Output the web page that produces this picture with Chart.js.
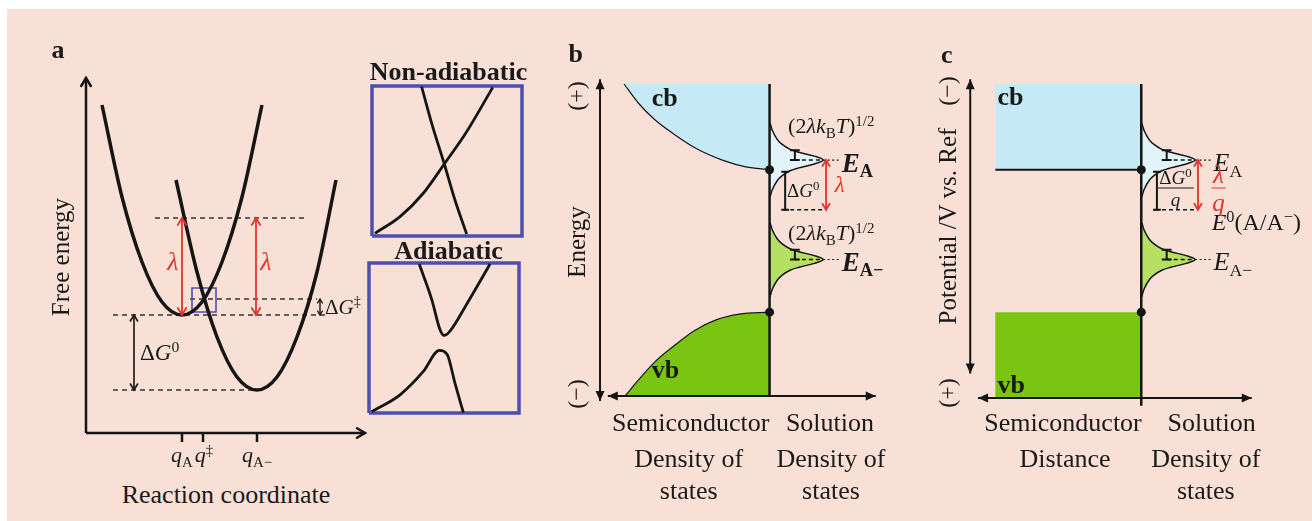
<!DOCTYPE html>
<html lang="en">
<head>
<meta charset="UTF-8">
<title>Electron transfer energetics</title>
<script src="https://cdn.jsdelivr.net/npm/chart.js"></script>
<style>
  html, body { margin: 0; padding: 0; background: #fff; width: 1312px; height: 521px; overflow: hidden; }
  #page { position: absolute; left: 7px; top: 9px; width: 1305px; height: 512px; background: #f8e0d6; }
  .panel { position: absolute; }
  .panel canvas { position: absolute; left: 0; top: 0; }
  .lbl { position: absolute; transform: translate(-50%, -50%); white-space: nowrap;
         font-family: "Liberation Serif", "DejaVu Serif", serif; line-height: 1; color: #1a1a1a; font-size: 22px; }
  .lbl.left { transform: translate(0, -50%); }
  .lbl.rot { transform: translate(-50%, -50%) rotate(-90deg); }
  .lbl sub { font-size: 0.68em; vertical-align: -0.32em; line-height: 0; }
  .lbl sup { font-size: 0.68em; vertical-align: 0.5em; line-height: 0; }
  .big { font-size: 26px; }
  .bold { font-weight: bold; }
  .red { color: #e2352c; }
  .frac { display: inline-flex; flex-direction: column; align-items: center; }
  .frac > span:first-child { border-bottom: 1.3px solid currentColor; padding: 0 2px 1px; }
  .frac > span:last-child { padding-top: 1px; }
</style>
</head>
<body>
<div id="page"></div>
<div class="panel" style="left:40px;top:60px;width:340px;height:420px"><canvas id="chartA" width="340" height="420"></canvas></div>
<div class="panel" style="left:366px;top:80px;width:162px;height:162px"><canvas id="chartNonAd" width="162" height="162"></canvas></div>
<div class="panel" style="left:363px;top:257px;width:162px;height:162px"><canvas id="chartAd" width="162" height="162"></canvas></div>
<div class="panel" style="left:540px;top:60px;width:350px;height:360px"><canvas id="chartB" width="350" height="360"></canvas></div>
<div class="panel" style="left:910px;top:60px;width:400px;height:360px"><canvas id="chartC" width="400" height="360"></canvas></div>

<script>
// ---- panel a: Marcus parabolas (reaction coordinate q, free energy G) ----
const qReact = [0.8, 1.8, 2.8, 3.8, 4.8, 5.8, 6.8, 7.8, 8.8];
const gReact = [16.4, 11.8, 8.55, 6.55, 5.9, 6.55, 8.55, 11.8, 16.4];
const qProd = [4.5, 5.55, 6.55, 7.55, 8.55, 9.55, 10.55, 11.55, 12.5];
const gProd = [12.65, 8.05, 4.8, 2.8, 2.15, 2.8, 4.8, 8.05, 12.65];
const qTicks = [4.8, 5.85, 8.55];
const qTickLabels = ['<i>q</i><sub>A</sub>', '<i>q</i><sup>‡</sup>', '<i>q</i><sub>A−</sub>'];
const gLevels = [10.75, 6.7, 5.9, 2.15]; // reorganisation, barrier top, reactant min, product min

// ---- insets: crossing region, normalised box coords ----
const nonAdSteepX = [0.331, 0.398, 0.482, 0.553, 0.631];
const nonAdSteepY = [0.995, 0.751, 0.48, 0.24, 0.013];
const nonAdRiseX = [0.02, 0.187, 0.342, 0.482, 0.631, 0.805];
const nonAdRiseY = [0.018, 0.129, 0.285, 0.48, 0.695, 0.991];
const adUpperX = [0.335, 0.418, 0.473, 0.5, 0.54, 0.651, 0.807];
const adUpperY = [0.993, 0.758, 0.557, 0.517, 0.546, 0.725, 0.993];
const adLowerX = [0.018, 0.207, 0.362, 0.469, 0.522, 0.573, 0.629];
const adLowerY = [0.009, 0.121, 0.277, 0.418, 0.389, 0.199, 0.002];

// ---- panels b / c: density of states vs energy ----
const cbEdgeDos = [-14.93, -13.43, -11.77, -9.77, -7.43, -4.77, -2.43, 0];
const cbEdgeE = [32, 30, 28.33, 26.83, 25.33, 24.17, 23.5, 23.2];
const vbEdgeDos = [-14.83, -13.43, -11.77, -9.77, -7.77, -5.43, -3.1, 0];
const vbEdgeE = [0, 1.67, 3.5, 5.17, 6.67, 7.83, 8.4, 8.6];
const bandEdges = [23.2, 8.6];          // Ec, Ev at the surface
const redoxLevels = [24.2, 19.1, 14.0]; // E_A, E0(A/A-), E_A-
const gaussOffset = [3.8, 3.0, 2.1, 1.6, 1.1, 0.8, 0.4, 0, -0.4, -0.8, -1.1, -1.6, -2.1, -3.0, -3.8];
const gaussDos = [0.05, 0.3, 0.8, 1.3, 2.1, 3.0, 4.6, 5.5, 4.6, 3.0, 2.1, 1.3, 0.8, 0.3, 0.05];

const BLACK = '#151515', RED = '#e2352c', BLUE = '#4b4fae';
const CB = '#c6eaf5', CB_LIGHT = '#e2f3fa', VB = '#7ac412', VB_LIGHT = '#b6e062';
const GAP = {x: 0, y: null};

const pts = (xs, ys) => xs.map((x, i) => ({x, y: ys[i]}));
function line(data, o) {
  return Object.assign({data, showLine: true, borderColor: BLACK, borderWidth: 2, pointRadius: 0, fill: false, tension: 0}, o);
}

const arrowHeads = {
  id: 'arrowHeads',
  afterDatasetsDraw(chart) {
    const ctx = chart.ctx;
    chart.data.datasets.forEach((ds, i) => {
      if (!ds.arrow) return;
      const p = chart.getDatasetMeta(i).data;
      const n = p.length;
      const head = (tip, from) => {
        const a = Math.atan2(tip.y - from.y, tip.x - from.x);
        const L = ds.arrowSize || 8, W = L * (ds.arrowFill ? 0.45 : 0.6);
        ctx.save();
        ctx.translate(tip.x, tip.y);
        ctx.rotate(a);
        ctx.beginPath();
        ctx.moveTo(-L, -W); ctx.lineTo(0, 0); ctx.lineTo(-L, W);
        if (ds.arrowFill) {
          ctx.closePath(); ctx.fillStyle = ds.borderColor; ctx.fill();
        } else {
          ctx.strokeStyle = ds.borderColor; ctx.lineWidth = ds.borderWidth; ctx.lineCap = 'round'; ctx.stroke();
        }
        ctx.restore();
      };
      if (ds.arrow === 'end' || ds.arrow === 'both') head(p[n - 1], p[n - 2]);
      if (ds.arrow === 'start' || ds.arrow === 'both') head(p[0], p[1]);
    });
  }
};

function htmlLabels(items) {
  return {
    id: 'htmlLabels',
    afterRender(chart) {
      const wrap = chart.canvas.parentNode;
      const {x, y} = chart.scales;
      items.forEach(it => {
        if (!it.el) {
          it.el = document.createElement('div');
          it.el.className = 'lbl ' + (it.cls || '');
          it.el.innerHTML = it.html;
          if (it.style) it.el.style.cssText = it.style;
          wrap.appendChild(it.el);
        }
        it.el.style.left = x.getPixelForValue(it.x) + 'px';
        it.el.style.top = y.getPixelForValue(it.y) + 'px';
      });
    }
  };
}

function makeChart(id, xr, yr, datasets, labels) {
  return new Chart(document.getElementById(id), {
    type: 'scatter',
    data: {datasets},
    options: {
      responsive: false, animation: false, events: [],
      layout: {padding: 0},
      plugins: {legend: {display: false}, tooltip: {enabled: false}},
      scales: {
        x: {type: 'linear', min: xr[0], max: xr[1], display: false},
        y: {type: 'linear', min: yr[0], max: yr[1], display: false}
      }
    },
    plugins: [arrowHeads, htmlLabels(labels)]
  });
}

// ---------- panel a ----------
const [gLam, gBar, gMinR, gMinP] = gLevels;
const tickSegs = [];
qTicks.forEach(q => tickSegs.push({x: q, y: 0}, {x: q, y: -0.45}, GAP));
makeChart('chartA', [-2.3, 14.7], [-2.35, 18.65], [
  line(pts(qReact, gReact), {borderWidth: 3.5, cubicInterpolationMode: 'monotone'}),
  line(pts(qProd, gProd), {borderWidth: 3.5, cubicInterpolationMode: 'monotone'}),
  line([{x: 0, y: 0}, {x: 0, y: 17.75}], {borderWidth: 2.5, arrow: 'end', arrowSize: 8}),
  line([{x: 0, y: 0}, {x: 13.95, y: 0}], {borderWidth: 2.5, arrow: 'end', arrowSize: 8}),
  line(tickSegs, {borderWidth: 2.5}),
  line([{x: qTicks[0], y: gMinR}, {x: qTicks[0], y: gLam}], {borderColor: RED, borderWidth: 1.8, arrow: 'both', arrowSize: 7}),
  line([{x: 8.5, y: gMinR}, {x: 8.5, y: gLam}], {borderColor: RED, borderWidth: 1.8, arrow: 'both', arrowSize: 7}),
  line([{x: 2.4, y: gMinP}, {x: 2.4, y: gMinR}], {borderWidth: 1.6, arrow: 'both', arrowSize: 6}),
  line([{x: 11.7, y: gMinR}, {x: 11.7, y: gBar}], {borderWidth: 1.4, arrow: 'both', arrowSize: 4}),
  line([{x: 5.3, y: 6.05}, {x: 6.5, y: 6.05}, {x: 6.5, y: 7.25}, {x: 5.3, y: 7.25}, {x: 5.3, y: 6.05}], {borderColor: BLUE, borderWidth: 1.6}),
  line([{x: 3.45, y: gLam}, {x: 11.1, y: gLam}, GAP, {x: 5.2, y: gBar}, {x: 11.55, y: gBar}, GAP,
        {x: 1.35, y: gMinR}, {x: 11.95, y: gMinR}, GAP, {x: 1.35, y: gMinP}, {x: qProd[4], y: gMinP}],
       {borderColor: '#333', borderWidth: 1.3, borderDash: [5, 4]})
], [
  {x: -1.4, y: 19.15, html: 'a', cls: 'big bold'},
  {x: -1.3, y: 8.8, html: 'Free energy', cls: 'rot', style: 'font-size:25px'},
  {x: 7.0, y: -3.1, html: 'Reaction coordinate', cls: 'big'},
  {x: 4.35, y: 8.55, html: '<i>λ</i>', cls: 'red big'},
  {x: 9.0, y: 8.55, html: '<i>λ</i>', cls: 'red big'},
  {x: 2.7, y: 4.05, html: 'Δ<i>G</i><sup>0</sup>', cls: 'left', style: 'font-size:23px'},
  {x: 11.95, y: 6.3, html: 'Δ<i>G</i><sup>‡</sup>', cls: 'left', style: 'font-size:21px'},
  ...qTicks.map((q, i) => ({x: q + (i === 1 ? 0.05 : 0), y: -1.1, html: qTickLabels[i]}))
]);

// ---------- insets ----------
const box = [{x: 0, y: 0}, {x: 1, y: 0}, {x: 1, y: 1}, {x: 0, y: 1}, {x: 0, y: 0}];
makeChart('chartNonAd', [-0.04, 1.04], [-0.04, 1.04], [
  line(pts(nonAdSteepX, nonAdSteepY), {borderWidth: 2.8, cubicInterpolationMode: 'monotone'}),
  line(pts(nonAdRiseX, nonAdRiseY), {borderWidth: 2.8, cubicInterpolationMode: 'monotone'}),
  line(box, {borderColor: BLUE, borderWidth: 3.5})
], [{x: 0.51, y: 1.095, html: 'Non-adiabatic', cls: 'big bold'}]);
makeChart('chartAd', [-0.04, 1.04], [-0.04, 1.04], [
  line(pts(adUpperX, adUpperY), {borderWidth: 2.8, cubicInterpolationMode: 'monotone'}),
  line(pts(adLowerX, adLowerY), {borderWidth: 2.8, cubicInterpolationMode: 'monotone'}),
  line(box, {borderColor: BLUE, borderWidth: 3.5})
], [{x: 0.53, y: 1.08, html: 'Adiabatic', cls: 'big bold'}]);

// ---------- shared pieces for b / c ----------
const [Ec, Ev] = bandEdges;
const [EA, E0, EAm] = redoxLevels;
const gauss = level => gaussOffset.map((d, i) => ({x: gaussDos[i], y: level + d}));
const peak = Math.max(...gaussDos);
function solutionSide() {
  const bars = [];
  [EA, EAm].forEach(l => bars.push({x: 2.1, y: l + 1}, {x: 3.1, y: l + 1}, GAP, {x: 2.6, y: l + 1}, {x: 2.6, y: l}, GAP, {x: 2.1, y: l}, {x: 3.1, y: l}, GAP));
  bars.push({x: 1.2, y: 23.0}, {x: 2.0, y: 23.0}, GAP, {x: 1.6, y: 23.0}, {x: 1.6, y: E0}, GAP, {x: 1.2, y: E0}, {x: 2.0, y: E0});
  return [
    line([{x: 5.8, y: E0}, {x: 5.8, y: EA}], {borderColor: RED, borderWidth: 1.8, arrow: 'both', arrowSize: 6}),
    line(bars, {borderWidth: 2}),
    line([{x: 2.6, y: EA}, {x: peak, y: EA}, GAP, {x: 2.6, y: EAm}, {x: peak, y: EAm}, GAP, {x: 1.4, y: E0}, {x: 5.8, y: E0}],
         {borderWidth: 1.4, borderDash: [4, 3]}),
    line([{x: peak, y: EA}, {x: 7.2, y: EA}, GAP, {x: peak, y: EAm}, {x: 7.2, y: EAm}],
         {borderWidth: 1.2, borderDash: [2, 2.5]}),
    line(gauss(EA), {borderWidth: 1.5, tension: 0.35, fill: 'shape', backgroundColor: CB_LIGHT}),
    line(gauss(EAm), {borderWidth: 1.5, tension: 0.35, fill: 'shape', backgroundColor: VB_LIGHT})
  ];
}
const dots = {data: [{x: 0, y: Ec}, {x: 0, y: Ev}], showLine: false, pointRadius: 4.5, pointBackgroundColor: BLACK, pointBorderWidth: 0};

// ---------- panel b ----------
const cbPoly = pts(cbEdgeDos, cbEdgeE).reverse();
cbPoly.unshift({x: 0, y: 32});
const vbPoly = pts(vbEdgeDos, vbEdgeE).concat([{x: 0, y: 0}]);
makeChart('chartB', [-23.1, 11.9], [-2, 34], [
  dots,
  line([{x: 0, y: 32}, {x: 0, y: 0}], {borderWidth: 2.5}),
  line([{x: -17.4, y: 32.5}, {x: -17.4, y: -0.5}], {borderWidth: 2, arrow: 'both', arrowFill: true, arrowSize: 10}),
  line([{x: -16.6, y: 0}, {x: 10.9, y: 0}], {borderWidth: 2, arrow: 'both', arrowFill: true, arrowSize: 10}),
  ...solutionSide(),
  line(pts(cbEdgeDos, cbEdgeE), {borderWidth: 1.2, cubicInterpolationMode: 'monotone'}),
  line(pts(vbEdgeDos, vbEdgeE), {borderWidth: 1.2, cubicInterpolationMode: 'monotone'}),
  line(cbPoly, {borderWidth: 0, fill: 'shape', backgroundColor: CB}),
  line(vbPoly, {borderWidth: 0, fill: 'shape', backgroundColor: VB})
], [
  {x: -19.9, y: 35.1, html: 'b', cls: 'big bold'},
  {x: -19.9, y: 30.8, html: '(+)', cls: 'rot', style: 'font-size:24px'},
  {x: -19.9, y: 15.8, html: 'Energy', cls: 'rot', style: 'font-size:25px'},
  {x: -19.9, y: 0.2, html: '(−)', cls: 'rot', style: 'font-size:24px'},
  {x: -12.1, y: 30.6, html: 'cb', cls: 'left big bold'},
  {x: -12.1, y: 2.7, html: 'vb', cls: 'left big bold'},
  {x: 1.9, y: 27.7, html: '(2<i>λk</i><sub>B</sub><i>T</i>)<sup>1/2</sup>', cls: 'left', style: 'font-size:22px'},
  {x: 1.9, y: 16.7, html: '(2<i>λk</i><sub>B</sub><i>T</i>)<sup>1/2</sup>', cls: 'left', style: 'font-size:22px'},
  {x: 7.4, y: 23.9, html: '<b><i>E</i><sub>A</sub></b>', cls: 'left', style: 'font-size:27px'},
  {x: 7.4, y: 13.7, html: '<b><i>E</i><sub>A−</sub></b>', cls: 'left', style: 'font-size:27px'},
  {x: 6.7, y: 21.7, html: '<i>λ</i>', cls: 'left red', style: 'font-size:23px'},
  {x: 1.8, y: 21.1, html: 'Δ<i>G</i><sup>0</sup>', cls: 'left', style: 'font-size:19px'},
  {x: -8.1, y: -2.8, html: 'Semiconductor', cls: 'big'},
  {x: -8.3, y: -6.5, html: 'Density of', cls: 'big'},
  {x: -8.3, y: -9.7, html: 'states', cls: 'big'},
  {x: 6.2, y: -2.8, html: 'Solution', cls: 'big'},
  {x: 6.3, y: -6.5, html: 'Density of', cls: 'big'},
  {x: 6.3, y: -9.7, html: 'states', cls: 'big'}
]);

// ---------- panel c ----------
const semiEdge = cbEdgeDos[0];
makeChart('chartC', [-23.2, 16.8], [-2, 34], [
  dots,
  line([{x: 0, y: 32}, {x: 0, y: -1}], {borderWidth: 2.5}),
  line([{x: -17.5, y: 32.5}, {x: -17.5, y: 2.3}], {borderWidth: 2, arrow: 'both', arrowFill: true, arrowSize: 10}),
  line([{x: -16.7, y: -0.2}, {x: 11.3, y: -0.2}], {borderWidth: 2, arrow: 'both', arrowFill: true, arrowSize: 10}),
  line([{x: semiEdge, y: Ec}, {x: 0, y: Ec}], {borderWidth: 2}),
  ...solutionSide(),
  line([{x: semiEdge, y: 32}, {x: 0, y: 32}, {x: 0, y: Ec}, {x: semiEdge, y: Ec}], {borderWidth: 0, fill: 'shape', backgroundColor: CB}),
  line([{x: semiEdge, y: -0.2}, {x: 0, y: -0.2}, {x: 0, y: Ev}, {x: semiEdge, y: Ev}], {borderWidth: 0, fill: 'shape', backgroundColor: VB})
], [
  {x: -19.9, y: 35.0, html: 'c', cls: 'big bold'},
  {x: -19.9, y: 31.3, html: '(−)', cls: 'rot', style: 'font-size:24px'},
  {x: -19.9, y: 17.4, html: 'Potential /V vs. Ref', cls: 'rot', style: 'font-size:25px'},
  {x: -19.9, y: 0.3, html: '(+)', cls: 'rot', style: 'font-size:24px'},
  {x: -14.7, y: 30.7, html: 'cb', cls: 'left big bold'},
  {x: -14.7, y: 1.1, html: 'vb', cls: 'left big bold'},
  {x: 7.4, y: 23.9, html: '<i>E</i><sub>A</sub>', cls: 'left', style: 'font-size:26px'},
  {x: 7.2, y: 17.8, html: '<i>E</i><sup>0</sup>(A/A<sup>−</sup>)', cls: 'left', style: 'font-size:24px'},
  {x: 7.4, y: 13.7, html: '<i>E</i><sub>A−</sub>', cls: 'left', style: 'font-size:26px'},
  {x: 3.5, y: 21.3, html: '<span class="frac"><span>Δ<i>G</i><sup>0</sup></span><span><i>q</i></span></span>', style: 'font-size:19px'},
  {x: 7.9, y: 21.3, html: '<span class="frac"><span><i>λ</i></span><span><i>q</i></span></span>', cls: 'red', style: 'font-size:25px'},
  {x: -8.0, y: -2.8, html: 'Semiconductor', cls: 'big'},
  {x: -7.8, y: -6.5, html: 'Distance', cls: 'big'},
  {x: 7.2, y: -2.8, html: 'Solution', cls: 'big'},
  {x: 6.6, y: -6.5, html: 'Density of', cls: 'big'},
  {x: 6.6, y: -9.7, html: 'states', cls: 'big'}
]);
</script>
</body>
</html>
